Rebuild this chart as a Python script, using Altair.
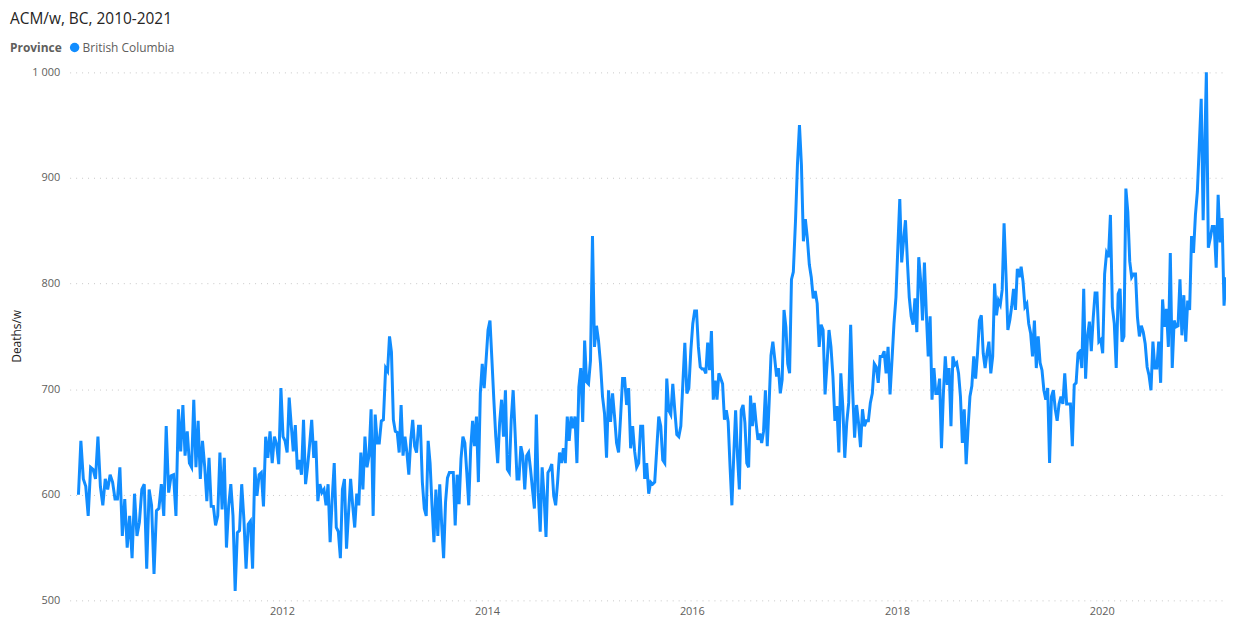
import altair as alt
import pandas as pd

# Weekly all-cause deaths, British Columbia, one list per year
deaths_2010 = [600, 651, 615, 608, 580, 626, 624, 615, 655, 608, 590, 615, 605, 619, 612, 596, 596, 626,
               561, 596, 550, 580, 540, 601, 561, 574, 605, 610, 530, 605, 590, 525, 585, 587, 610, 580,
               665, 602, 618, 619, 580, 681]
deaths_2011 = [641, 685, 637, 660, 630, 626, 690, 626, 670, 615, 651, 627, 594, 635, 589, 589, 571, 580,
               640, 586, 635, 550, 589, 610, 580, 509, 564, 566, 610, 577, 530, 572, 575, 530, 626, 599,
               619, 621, 589, 655, 635, 660, 630, 655, 648, 629, 701]
deaths_2012 = [655, 651, 640, 692, 666, 641, 666, 624, 633, 619, 671, 610, 627, 648, 671, 635, 651, 594,
               610, 602, 605, 590, 610, 555, 596, 630, 569, 565, 540, 605, 615, 549, 583, 615, 590, 569,
               601, 590, 640, 605, 655, 626, 637, 681, 580, 676, 649, 649, 670, 671]
deaths_2013 = [720, 717, 750, 735, 671, 660, 659, 640, 685, 637, 655, 640, 619, 652, 671, 646, 640, 665,
               665, 612, 587, 580, 651, 630, 590, 555, 605, 561, 610, 572, 540, 593, 616, 621, 621, 621,
               571, 619, 591, 634, 655, 649, 621, 590, 643, 670, 646, 674, 612, 696, 724, 701, 728]
deaths_2014 = [756, 765, 728, 690, 655, 630, 668, 690, 655, 699, 624, 621, 671, 699, 659, 615, 615, 646,
               637, 605, 637, 640, 624, 605, 587, 676, 602, 565, 626, 599, 560, 621, 624, 629, 599, 590,
               612, 640, 630, 644, 630, 674, 651, 674, 663, 674, 630, 702, 720, 669, 746, 707, 705]
deaths_2015 = [727, 845, 740, 760, 746, 724, 693, 677, 635, 699, 669, 696, 674, 649, 640, 674, 710, 710,
               685, 701, 644, 665, 641, 626, 630, 665, 665, 615, 630, 601, 612, 610, 612, 643, 674, 665,
               633, 630, 710, 680, 676, 705, 680, 657, 655, 665, 705, 744, 696, 701, 737]
deaths_2016 = [762, 774, 774, 740, 721, 719, 719, 715, 744, 718, 755, 690, 708, 690, 715, 710, 705, 671,
               680, 669, 627, 590, 637, 680, 637, 605, 680, 685, 668, 630, 626, 694, 665, 687, 668, 652,
               658, 649, 660, 699, 646, 687, 732, 745, 729, 712, 720, 696, 709, 775, 759, 724, 715, 804, 811]
deaths_2017 = [860, 914, 950, 912, 840, 861, 843, 818, 806, 786, 793, 781, 740, 761, 756, 695, 724, 756,
               740, 712, 670, 684, 640, 715, 684, 635, 668, 687, 761, 699, 654, 685, 668, 645, 681, 665,
               670, 670, 687, 696, 724, 721, 706, 731, 731, 736, 715, 740, 695, 728, 762, 787]
deaths_2018 = [835, 880, 820, 841, 860, 822, 787, 769, 761, 786, 754, 825, 803, 765, 820, 772, 731, 769,
               690, 720, 696, 696, 710, 644, 696, 731, 704, 720, 665, 731, 723, 725, 715, 693, 649, 681,
               629, 663, 693, 703, 731, 710, 734, 765, 770, 734, 720, 734, 745, 715, 731, 800, 770, 784]
deaths_2019 = [780, 794, 857, 809, 756, 765, 778, 795, 775, 814, 806, 816, 802, 778, 781, 762, 753, 731,
               765, 720, 750, 725, 718, 699, 690, 701, 630, 693, 699, 681, 670, 686, 693, 686, 715, 686,
               686, 686, 646, 704, 706, 734, 736, 720, 795, 710, 750, 764, 736, 767, 791, 791, 745, 747]
deaths_2020 = [734, 809, 829, 825, 865, 778, 762, 720, 790, 795, 745, 750, 890, 868, 821, 806, 809, 809,
               768, 750, 760, 754, 743, 721, 713, 699, 745, 720, 720, 745, 706, 785, 759, 776, 740, 829,
               720, 765, 759, 760, 804, 751, 789, 745, 784, 775, 845, 829, 865, 887, 931, 975, 860]
deaths_2021 = [915, 1000, 834, 843, 854, 854, 815, 884, 839, 862, 779, 806]

full_years = [2010, 2011, 2012, 2013, 2014, 2015, 2016, 2017, 2018, 2019, 2020]
year_lists = [deaths_2010, deaths_2011, deaths_2012, deaths_2013, deaths_2014, deaths_2015,
              deaths_2016, deaths_2017, deaths_2018, deaths_2019, deaths_2020]
province = "British Columbia"
y_ticks = [500, 600, 700, 800, 900, 1000]
x_tick_years = [2012, 2014, 2016, 2018, 2020]

rows = []
for yr, vals in zip(full_years, year_lists):
    n = len(vals)
    start = pd.Timestamp(f"{yr}-01-01")
    for i, v in enumerate(vals):
        d = start + pd.Timedelta(days=(i + 0.5) / n * 365)
        rows.append({"date": d.strftime("%Y-%m-%dT%H:%M:%S"), "deaths": v, "Province": province})
start21 = pd.Timestamp("2021-01-01")
for i, v in enumerate(deaths_2021):
    d = start21 + pd.Timedelta(days=7 * i)
    rows.append({"date": d.strftime("%Y-%m-%dT%H:%M:%S"), "deaths": v, "Province": province})
df = pd.DataFrame(rows)

FONT = "Open Sans"
BLUE = "#118DFF"

line = alt.Chart(df).mark_line(strokeWidth=3, interpolate="linear").encode(
    x=alt.X("date:T",
            scale=alt.Scale(domain=[alt.DateTime(year=2009, month=12, date=5),
                                    alt.DateTime(year=2021, month=3, date=19)]),
            axis=alt.Axis(title=None, values=[alt.DateTime(year=y, month=1, date=1) for y in x_tick_years],
                          format="%Y", grid=False, domain=False, ticks=False, labelPadding=5,
                          labelFontSize=11, labelColor="#605E5C", labelFont=FONT)),
    y=alt.Y("deaths:Q",
            scale=alt.Scale(domain=[500, 1000], nice=False, zero=False),
            axis=alt.Axis(title="Deaths/w", values=y_ticks, domain=False, ticks=False, tickSize=0,
                          labelPadding=10, labelFontSize=11, labelColor="#605E5C", labelFont=FONT,
                          labelExpr="replace(format(datum.value, ','), ',', ' ')",
                          grid=True, gridDash=[1, 5], gridColor="#C8C8C8", gridWidth=1,
                          titleFontSize=12, titleColor="#252423", titleFont=FONT, titleFontWeight="normal",
                          titleX=-53, titleY=265, titleAngle=-90, titleAlign="center", titleBaseline="middle")),
    color=alt.Color("Province:N", scale=alt.Scale(range=[BLUE]),
                    legend=alt.Legend(title="Province", orient="none", legendX=-60, legendY=-31,
                                      direction="horizontal", titleOrient="left",
                                      titleFontWeight="bold", titleFontSize=12, titleColor="#605E5C",
                                      titleFont=FONT, titlePadding=6, labelFont=FONT, labelFontSize=12,
                                      labelColor="#605E5C", symbolType="circle", symbolSize=90,
                                      symbolFillColor=BLUE, symbolStrokeColor=BLUE, symbolStrokeWidth=0,
                                      symbolOpacity=1, labelOffset=2)),
)

chart = line.properties(
    width=1163,
    height=531,
    autosize="none",
    padding={"left": 62, "top": 63, "right": 0, "bottom": 17},
    title=alt.TitleParams(text="ACM/w, BC, 2010-2021", anchor="start", frame="group", fontSize=15.5,
                          font=FONT, color="#252423", fontWeight="normal", dx=-60, offset=14),
).configure_view(strokeWidth=0)

chart.save("out.html", embed_options={"renderer": "svg", "actions": False})
